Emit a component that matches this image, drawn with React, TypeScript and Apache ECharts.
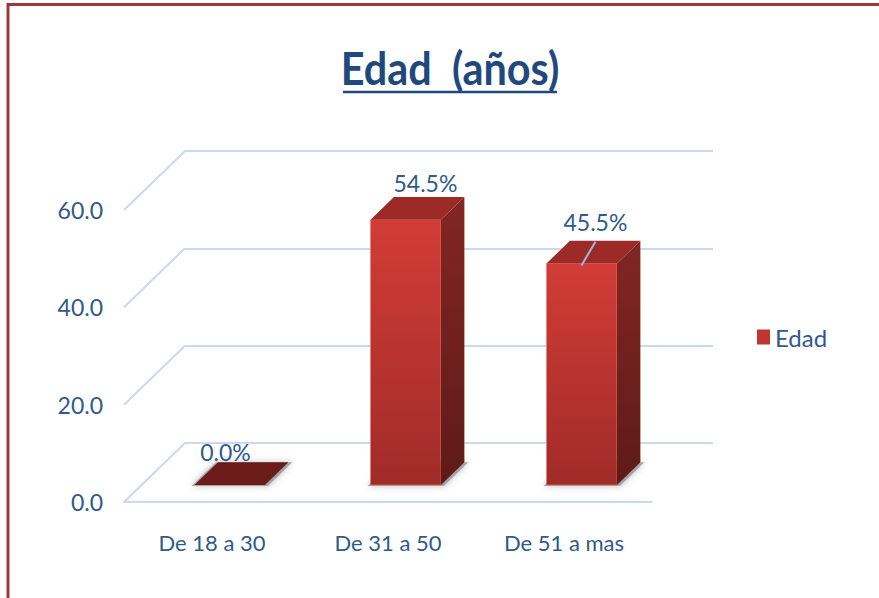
import React, { useEffect, useRef } from "react";
import * as echarts from "echarts";

const TITLE = "Edad  (años)";
const SERIES_NAME = "Edad";
const CATEGORIES = ["De 18 a 30", "De 31 a 50", "De 51 a mas"];
const VALUES = [0.0, 54.5, 45.5];
const LABELS = ["0.0%", "54.5%", "45.5%"];
const Y_TICKS = [0, 20, 40, 60];

// label nudges (style only) and leader line flags
const LABEL_NUDGE = [
  [-16, 4],
  [8, 0],
  [2, -5],
];
const LEADER = [false, false, true];

const FONT = "Lato, 'DejaVu Sans Condensed', sans-serif";
const TEXT_BLUE = "#2f5a8c";
const GRID_BLUE = "#c9d9ef";

// perspective depth vector of the floor (front -> back)
const DX = 61;
const DY = -59;
const BAR_FRONT = 0.29; // bar front plane, fraction of depth
const BAR_DEPTH = 0.385; // bar depth, fraction of depth

export default function App() {
  const ref = useRef<HTMLDivElement>(null);

  useEffect(() => {
    if (!ref.current) return;
    const chart = echarts.init(ref.current, null, { renderer: "svg" });

    const gridRender = (params: any, api: any) => {
      const v = api.value(1);
      const left = params.coordSys.x;
      const y = api.coord([0, v])[1];
      return {
        type: "line",
        shape: { x1: left, y1: y, x2: left + DX, y2: y + DY },
        style: { stroke: GRID_BLUE, lineWidth: 2 },
        silent: true,
      };
    };

    const barRender = (params: any, api: any) => {
      const i = api.value(0);
      const v = api.value(1);
      const top = api.coord([i, v]);
      const base = api.coord([i, 0]);
      const band = api.size([1, 0])[0];
      const w = band * 0.4;
      const fx = DX * BAR_FRONT;
      const fy = DY * BAR_FRONT;
      const ddx = DX * BAR_DEPTH;
      const ddy = DY * BAR_DEPTH;
      const xl = top[0] - w / 2 + fx;
      const xr = top[0] + w / 2 + fx;
      const yt = top[1] + fy;
      const yb = base[1] + fy;
      const children: any[] = [];
      children.push({
        type: "polygon",
        shape: {
          points: [
            [xl - 3, yb + 1],
            [xr + 3, yb + 1],
            [xr + ddx + 4, yb + ddy],
            [xl + ddx - 2, yb + ddy],
          ],
        },
        style: {
          fill: "rgba(110,110,110,0.55)",
          shadowBlur: 7,
          shadowColor: "rgba(0,0,0,0.45)",
        },
        silent: true,
      });
      if (v > 0) {
        children.push({
          type: "rect",
          shape: { x: xl, y: yt, width: xr - xl, height: yb - yt },
          style: {
            fill: new echarts.graphic.LinearGradient(0, 0, 0, 1, [
              { offset: 0, color: "#d23c36" },
              { offset: 1, color: "#a02b28" },
            ]),
            stroke: "rgba(230,120,110,0.5)",
            lineWidth: 1,
          },
        });
        children.push({
          type: "polygon",
          shape: {
            points: [
              [xr, yt],
              [xr + ddx, yt + ddy],
              [xr + ddx, yb + ddy],
              [xr, yb],
            ],
          },
          style: {
            fill: new echarts.graphic.LinearGradient(0, 0, 0, 1, [
              { offset: 0, color: "#832622" },
              { offset: 1, color: "#5e1a18" },
            ]),
          },
        });
      }
      children.push({
        type: "polygon",
        shape: {
          points: [
            [xl, yt],
            [xl + ddx, yt + ddy],
            [xr + ddx, yt + ddy],
            [xr, yt],
          ],
        },
        style: { fill: v > 0 ? "#9c2a26" : "#6a1b1a" },
      });
      const lx = (xl + xr) / 2 + ddx / 2 + LABEL_NUDGE[i][0];
      const ly = yt + ddy - 14 + LABEL_NUDGE[i][1];
      if (LEADER[i]) {
        children.push({
          type: "line",
          shape: { x1: lx, y1: ly + 20, x2: lx - 14, y2: yt + 2 },
          style: { stroke: "#9bb9e0", lineWidth: 2 },
        });
      }
      children.push({
        type: "text",
        x: lx,
        y: ly,
        style: {
          text: LABELS[i],
          fill: TEXT_BLUE,
          font: `23px ${FONT}`,
          align: "center",
          verticalAlign: "middle",
        },
      });
      return { type: "group", children };
    };

    chart.setOption({
      animation: false,
      backgroundColor: "#ffffff",
      legend: {
        data: [SERIES_NAME],
        left: 757,
        top: 325,
        padding: 0,
        icon: "rect",
        itemWidth: 13,
        itemHeight: 15,
        textStyle: { fontFamily: FONT, fontSize: 24, color: TEXT_BLUE },
      },
      grid: [
        { left: 124, top: 210, width: 528, height: 292, outerBoundsMode: "none" },
        { left: 185, top: 151, width: 528, height: 292, outerBoundsMode: "none" },
      ],
      xAxis: [
        {
          type: "category",
          gridIndex: 0,
          data: CATEGORIES,
          axisLine: { show: true, lineStyle: { color: GRID_BLUE, width: 2 } },
          axisTick: { show: false },
          axisLabel: {
            interval: 0,
            margin: 29,
            fontFamily: FONT,
            fontSize: 22,
            color: TEXT_BLUE,
          },
        },
        {
          type: "category",
          gridIndex: 1,
          data: CATEGORIES,
          show: false,
        },
      ],
      yAxis: [
        {
          type: "value",
          gridIndex: 0,
          min: 0,
          max: 60,
          interval: 20,
          splitLine: { show: false },
          axisLine: { show: false },
          axisTick: { show: false },
          axisLabel: {
            margin: 21,
            fontFamily: FONT,
            fontSize: 23,
            color: TEXT_BLUE,
            formatter: (v: number) => v.toFixed(1),
          },
        },
        {
          type: "value",
          gridIndex: 1,
          min: 0,
          max: 60,
          interval: 20,
          splitLine: { show: true, lineStyle: { color: GRID_BLUE, width: 2 } },
          axisLine: { show: false },
          axisTick: { show: false },
          axisLabel: { show: false },
        },
      ],
      series: [
        {
          type: "custom",
          name: "grid-diagonals",
          xAxisIndex: 0,
          yAxisIndex: 0,
          data: Y_TICKS.map((v) => [0, v]),
          encode: { x: 0, y: 1 },
          renderItem: gridRender,
          silent: true,
          z: 1,
        },
        {
          type: "custom",
          name: SERIES_NAME,
          xAxisIndex: 0,
          yAxisIndex: 0,
          data: VALUES.map((v, i) => [i, v]),
          encode: { x: 0, y: 1 },
          itemStyle: { color: "#c2352f" },
          renderItem: barRender,
          z: 5,
        },
      ],
      graphic: [
        {
          type: "rect",
          shape: { x: 8, y: 4.5, width: 1000, height: 800 },
          style: { fill: "none", stroke: "#9b3a3a", lineWidth: 3 },
          silent: true,
        },
        {
          type: "text",
          x: 450,
          y: 67,
          scaleX: 0.9,
          style: {
            text: TITLE,
            fill: "#1f497d",
            font: `bold 46px ${FONT}`,
            align: "center",
            verticalAlign: "middle",
          },
        },
        {
          type: "line",
          shape: { x1: 343, y1: 92, x2: 557, y2: 92 },
          style: { stroke: "#1f497d", lineWidth: 2.5 },
        },
      ],
    });

    return () => chart.dispose();
  }, []);

  return (
    <div
      ref={ref}
      style={{ position: "fixed", left: 0, top: 0, width: 879, height: 598 }}
    />
  );
}
